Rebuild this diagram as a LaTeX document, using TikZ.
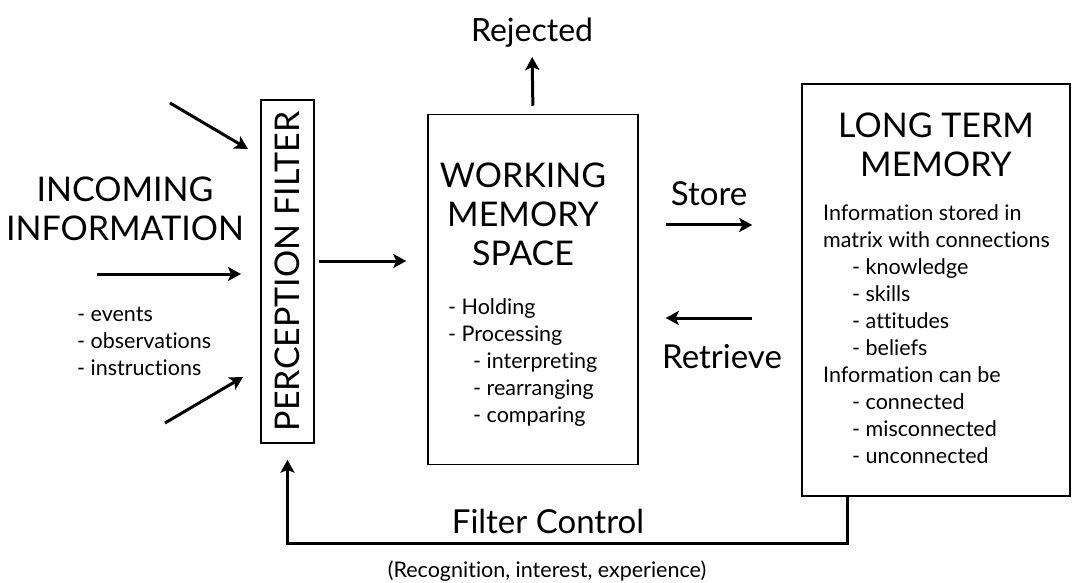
\documentclass[tikz,border=0pt]{standalone}
\usepackage{fontspec}
\setmainfont{Lato}[Ligatures={NoCommon,NoRequired}]
\usetikzlibrary{arrows.meta}
\tikzset{
  box/.style={draw, line width=1.5pt, inner sep=0pt},
  flow/.style={-{Stealth[length=13pt,width=14pt,inset=3pt]}, line width=3pt},
  title/.style={font=\fontsize{34}{39}\selectfont, align=center, inner sep=0pt},
  label/.style={font=\fontsize{33}{39}\selectfont, inner sep=0pt},
  items/.style={font=\fontsize{21.5}{27}\selectfont, align=left, inner sep=0pt},
}
\newcommand{\ind}{\hspace*{25pt}}
\begin{document}
\begin{tikzpicture}[x=1pt, y=-1pt]
\useasboundingbox (0,0) rectangle (1072,583);
% boxes
\node[box, rotate=90, minimum width=343pt, minimum height=53pt, font=\fontsize{34}{39}\selectfont] (filter) at (287.5, 271.5) {PERCEPTION FILTER};
\node[box, minimum width=210pt, minimum height=350pt] (work) at (533, 289.5) {};
\node[box, minimum width=268pt, minimum height=412pt] (ltm) at (936, 290) {};
% texts
\node[title, anchor=north] (incoming) at (125, 177) {INCOMING\\INFORMATION};
\node[items, anchor=north west] (events) at (77, 307) {- events\\- observations\\- instructions};
\node[title, anchor=north] (worktitle) at (523, 163) {WORKING\\MEMORY\\SPACE};
\node[items, anchor=north west] (worklist) at (448, 298) {- Holding\\- Processing\\\ind- interpreting\\\ind- rearranging\\\ind- comparing};
\node[title, anchor=north] (ltmtitle) at (936, 113) {LONG TERM\\MEMORY};
\node[items, anchor=north west] (ltmlist) at (823, 204) {Information stored in\\matrix with connections\\\hspace*{29pt}- knowledge\\\hspace*{29pt}- skills\\\hspace*{29pt}- attitudes\\\hspace*{29pt}- beliefs\\Information can be\\\hspace*{29pt}- connected\\\hspace*{29pt}- misconnected\\\hspace*{29pt}- unconnected};
\node[label, anchor=base, font=\fontsize{32}{38}\selectfont] (rejected) at (532, 42) {Rejected};
\node[label, anchor=base] (store) at (709, 206) {Store};
\node[label, anchor=base] (retrieve) at (722, 368) {Retrieve};
\node[label, anchor=base] (control) at (548, 533) {Filter Control};
\node[items, anchor=base] (reasons) at (547, 577) {(Recognition, interest, experience)};
% incoming arrows
\coordinate (in1) at (170, 103);
\coordinate (in1 end) at (248, 149);
\coordinate (in2) at (97, 274);
\coordinate (in2 end) at (241, 274);
\coordinate (in3) at (165, 423);
\coordinate (in3 end) at (243, 377);
\draw[flow] (in1) -- (in1 end);
\draw[flow] (in2) -- (in2 end);
\draw[flow] (in3) -- (in3 end);
% flows between boxes
\draw[flow, shorten <=4pt, shorten >=21pt] (filter.south |- 0,261) -- (work.west |- 0,261);
\draw[flow, shorten <=8pt, shorten >=9pt] (work.north) -- (rejected.south);
\draw[flow, shorten <=27pt, shorten >=49pt] (work.east |- 0,225) -- (ltm.west |- 0,225);
\draw[flow, shorten <=49pt, shorten >=27pt] (ltm.west |- 0,318) -- (work.east |- 0,318);
% feedback
\draw[flow, shorten >=16pt] (ltm.south -| 847,0) -- (847,543) -| (filter.west);
\end{tikzpicture}
\end{document}
